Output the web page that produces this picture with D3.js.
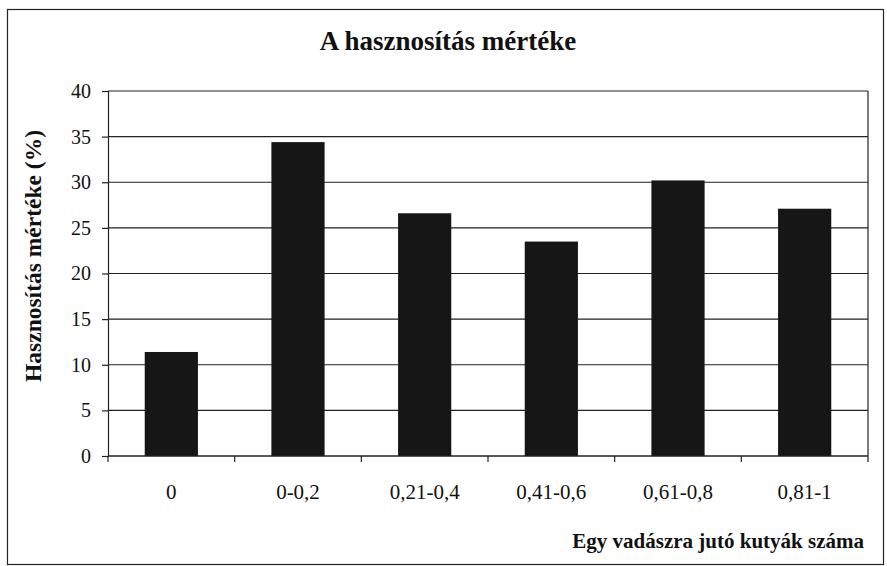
<!DOCTYPE html>
<html>
<head>
<meta charset="utf-8">
<script src="https://cdn.jsdelivr.net/npm/d3@7"></script>
<style>
  body { margin: 0; background: #fff; }
  text { font-family: "Liberation Serif", "Times New Roman", serif; fill: #111; }
</style>
</head>
<body>
<div id="chart"></div>
<script>
// Data
var categories = ['0', '0-0,2', '0,21-0,4', '0,41-0,6', '0,61-0,8', '0,81-1'];
var values = [11.4, 34.4, 26.6, 23.5, 30.2, 27.1];
var yTicks = [0, 5, 10, 15, 20, 25, 30, 35, 40];

var W = 887, H = 566;
var margin = {top: 91, right: 19, bottom: 110, left: 108},
    width = W - margin.left - margin.right,
    height = H - margin.top - margin.bottom;

var root = d3.select('#chart')
    .append('svg')
    .attr('width', W)
    .attr('height', H);

// Outer chart frame
root.append('rect')
    .attr('x', 7.5).attr('y', 9.5)
    .attr('width', 876).attr('height', 555)
    .attr('fill', 'none')
    .attr('stroke', '#222')
    .attr('stroke-width', 1.2);

var svg = root.append('g')
    .attr('transform', 'translate(' + margin.left + ',' + margin.top + ')');

var x = d3.scaleBand().domain(categories).range([0, width]).paddingInner(0.58).paddingOuter(0.29);
var xEdges = d3.scaleBand().domain(categories).range([0, width]);
var y = d3.scaleLinear().domain([0, 40]).range([height, 0]);

// Gridlines
svg.selectAll('.grid')
    .data(yTicks.filter(function(d) { return d > 0; }))
    .enter().append('line')
    .attr('x1', 0).attr('x2', width)
    .attr('y1', function(d) { return y(d); })
    .attr('y2', function(d) { return y(d); })
    .attr('stroke', '#222')
    .attr('stroke-width', 1.2);

// Right border of plot
svg.append('line')
    .attr('x1', width).attr('x2', width)
    .attr('y1', 0).attr('y2', height)
    .attr('stroke', '#222').attr('stroke-width', 1.2);

// Bars
svg.selectAll('.bar')
    .data(values)
    .enter().append('rect')
    .attr('x', function(d, i) { return x(categories[i]); })
    .attr('y', function(d) { return y(d); })
    .attr('width', x.bandwidth())
    .attr('height', function(d) { return height - y(d); })
    .attr('fill', '#161616');

// Y axis
var yAxis = svg.append('g')
    .call(d3.axisLeft(y).tickValues(yTicks).tickSize(6).tickPadding(11));
yAxis.selectAll('text').style('font-size', '20px');
yAxis.selectAll('path, line').attr('stroke', '#222').attr('stroke-width', 1.2);

// X axis: ticks at category boundaries
var xAxisG = svg.append('g').attr('transform', 'translate(0,' + height + ')');
xAxisG.append('line')
    .attr('x1', 0).attr('x2', width)
    .attr('stroke', '#222').attr('stroke-width', 1.5);
xAxisG.selectAll('.tick')
    .data(categories.concat(['end']))
    .enter().append('line')
    .attr('x1', function(d, i) { return i * xEdges.step(); })
    .attr('x2', function(d, i) { return i * xEdges.step(); })
    .attr('y1', 0).attr('y2', 6)
    .attr('stroke', '#222').attr('stroke-width', 1.2);
xAxisG.selectAll('.lbl')
    .data(categories)
    .enter().append('text')
    .attr('x', function(d) { return xEdges(d) + xEdges.bandwidth() / 2; })
    .attr('y', 43)
    .attr('text-anchor', 'middle')
    .style('font-size', '21px')
    .text(function(d) { return d; });

// Title
root.append('text')
    .attr('x', 448).attr('y', 50)
    .attr('text-anchor', 'middle')
    .style('font-size', '27px')
    .style('font-weight', 'bold')
    .text('A hasznosítás mértéke');

// Y axis title
root.append('text')
    .attr('transform', 'translate(41,256) rotate(-90)')
    .attr('text-anchor', 'middle')
    .style('font-size', '23.5px')
    .style('font-weight', 'bold')
    .text('Hasznosítás mértéke (%)');

// X axis title
root.append('text')
    .attr('x', 864).attr('y', 548)
    .attr('text-anchor', 'end')
    .style('font-size', '21px')
    .style('font-weight', 'bold')
    .text('Egy vadászra jutó kutyák száma');
</script>
</body>
</html>
